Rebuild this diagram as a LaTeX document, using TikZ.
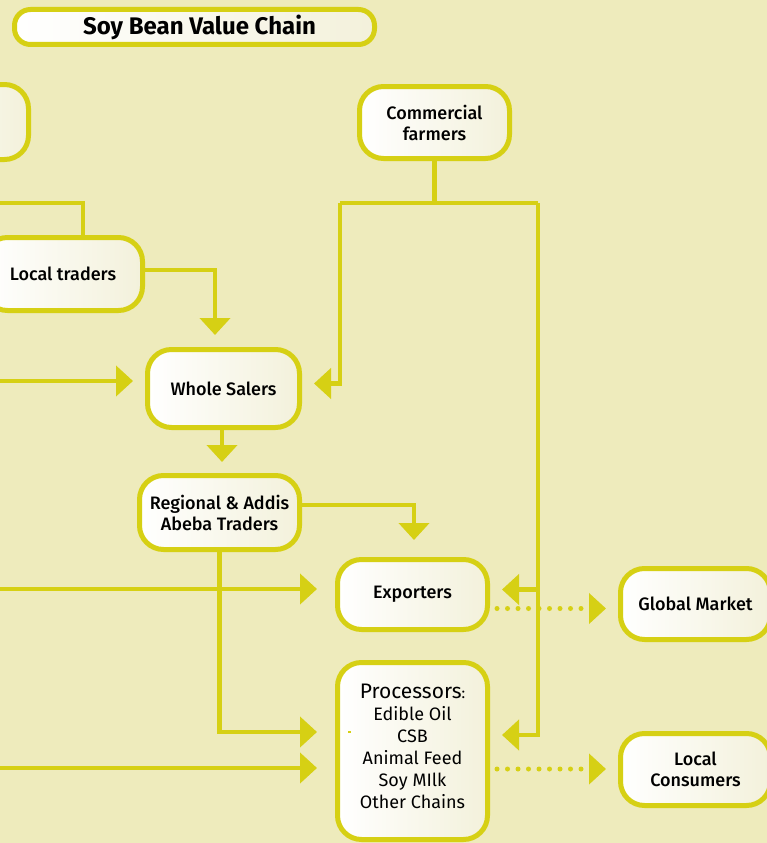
\documentclass[tikz,border=0pt]{standalone}
\usepackage{xcolor}
\usepackage{fontspec}
\setmainfont{Fira Sans}
\newfontfamily\medfont{Fira Sans Medium}
\usepackage{tikz}
\usetikzlibrary{shapes.geometric, arrows.meta, positioning, calc}
\definecolor{chainyellow}{RGB}{214, 208, 20}
\definecolor{pagecream}{RGB}{238, 235, 188}
\definecolor{boxcream}{RGB}{243, 241, 219}

\tikzset{
    stage/.style={draw=chainyellow, line width=5pt, rounded corners=24pt, left color=white, right color=boxcream,
        align=center, inner sep=0pt, minimum width=150pt, minimum height=72pt, text=black,
        font=\medfont\fontsize{18}{21}\selectfont},
    link/.style={draw=chainyellow, line width=4.5pt},
    arr/.style={-{Triangle[length=17pt,width=30pt]}, shorten >=12pt},
    dotlink/.style={draw=chainyellow, line width=5pt, line cap=round, dash pattern=on 0pt off 10.5pt}
}

\begin{document}
\begin{tikzpicture}[x=1pt, y=-1pt]
        \useasboundingbox (0,0) rectangle (767,843);
        \clip (0,0) rectangle (767,843);
        \fill[pagecream] (0,0) rectangle (767,843);

        % title
        \node[stage, rounded corners=16pt, minimum width=360pt, minimum height=35pt,
            font=\bfseries\fontsize{24}{26}\selectfont] (title) at (194.5,27) {\hspace*{10pt}Soy Bean Value Chain};

        % actors
        \node[stage, minimum height=75pt] (farmersleft) at (-46.5,122) {};
        \node[stage] (commercial) at (434.5,122.5) {Commercial\\farmers};
        \node[stage, minimum width=159pt, minimum height=73pt] (localtraders) at (63,274) {Local traders};
        \node[stage, minimum width=152pt, minimum height=78pt] (wholesalers) at (223.5,388.5) {Whole Salers};
        \node[stage, minimum width=160pt, minimum height=74pt] (regional) at (219.5,512.5) {Regional \& Addis\\Abeba Traders};
        \node[stage, minimum height=70pt] (exporters) at (412.5,594.5) {Exporters};
        \node[stage, minimum height=71pt] (global) at (695.5,604) {Global Market};
        \node[stage, minimum height=177pt, text depth=10pt, font=\fontsize{18}{22}\selectfont] (processors) at (412.5,751)
            {{\fontsize{21}{23}\selectfont Processors}{\fontsize{15}{15}\selectfont :}\\Edible Oil\\CSB\\Animal Feed\\Soy MIlk\\Other Chains};
        \node[stage] (consumers) at (695.5,769.5) {Local\\Consumers};
        \fill[chainyellow] ([xshift=13pt,yshift=20pt]processors.west) rectangle +(3,2);

        % free ends on the left and branch points
        \coordinate (inA) at (-10,203);
        \coordinate (inB) at (-10,381);
        \coordinate (inC) at (-10,589);
        \coordinate (inD) at (-10,768);
        \coordinate (cfL) at (340,203);
        \coordinate (cfR) at (538,203);

        % links
        \draw[link] (inA) -| ([xshift=20pt]localtraders.north);
        \draw[link, arr] ([yshift=4pt]localtraders.east) -| ([xshift=-8.5pt]wholesalers.north);
        \draw[link, arr] (inB) -- (inB -| wholesalers.west);
        \draw[link] (commercial.south) -- (commercial.south |- cfL);
        \draw[link] (cfL) -- (cfR);
        \draw[link, arr] (cfL) |- ([yshift=5pt]wholesalers.east);
        \draw[link, arr] (cfR) |- ([yshift=16pt]processors.east);
        \draw[link, arr] ([yshift=5pt]exporters.east -| cfR) -- ([yshift=5pt]exporters.east);
        \draw[link, arr, shorten >=11pt] ([xshift=-1.5pt]wholesalers.south) -- ([xshift=-1.5pt]wholesalers.south |- regional.north);
        \draw[link, arr, shorten >=17pt] ([yshift=7.5pt]regional.east) -| ([xshift=1.5pt]exporters.north);
        \draw[link, arr, shorten >=18pt] (regional.south) |- ([yshift=19pt]processors.west);
        \draw[link, arr, shorten >=18pt] (inC) -- (inC -| exporters.west);
        \draw[link, arr, shorten >=18pt] (inD) -- (inD -| processors.west);
        \draw[dotlink, arr, shorten <=7pt] ([yshift=-14pt]exporters.east) -- ([yshift=-14pt]exporters.east -| global.west);
        \draw[dotlink, arr, shorten <=7pt] ([yshift=-18pt]processors.east) -- ([yshift=-18pt]processors.east -| consumers.west);
    \end{tikzpicture}
\end{document}
